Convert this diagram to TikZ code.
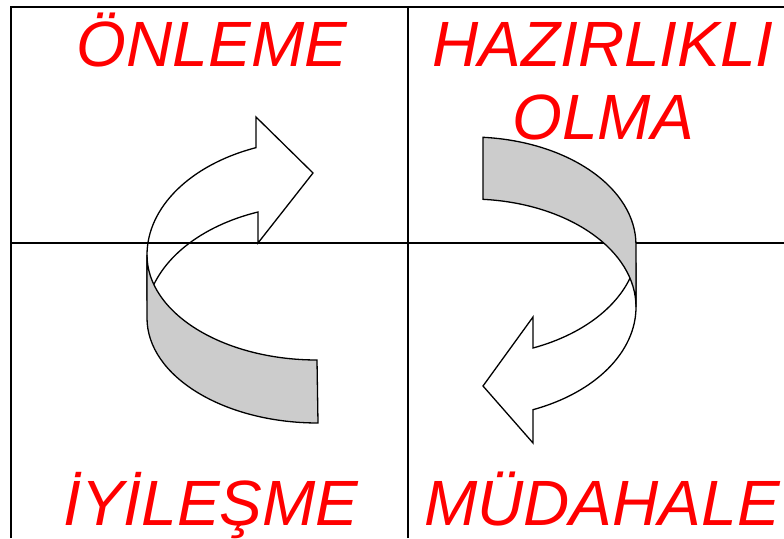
\documentclass[tikz,border=0pt]{standalone}
\usepackage{fontspec}
\setmainfont{Liberation Sans}
\begin{document}
\begin{tikzpicture}[x=1pt,y=1pt,
  gridline/.style={line width=1.6pt,black},
  arrowline/.style={line width=1.3pt,black,line join=miter},
  band/.style={line width=1.3pt,black,fill=bandgray},
  label/.style={text=red,font=\itshape\fontsize{64}{64}\selectfont,inner sep=0pt,anchor=base}]
\definecolor{bandgray}{RGB}{204,204,204}
\useasboundingbox (0,0) rectangle (784,538);
% grid
\draw[gridline] (11,0) -- (11,531) -- (790,531);
\draw[gridline] (408,0) -- (408,531);
\draw[gridline] (11,295) -- (790,295);
% left arrow (outline)
\draw[arrowline] (147,283) arc[start angle=180,end angle=111,x radius=170pt,y radius=115pt]
  -- (256,421) -- (313,365) -- (258,295) -- (258,326)
  arc[start angle=110,end angle=170,x radius=171pt,y radius=115pt]
  -- (147,237.9) -- cycle;
% left band
\draw[band] (147,283) arc[start angle=180,end angle=270,x radius=170pt,y radius=105pt]
  -- (318,115) arc[start angle=270,end angle=180,x radius=171pt,y radius=105pt] -- cycle;
% right arrow (outline)
\draw[arrowline] (636,231) arc[start angle=0,end angle=-67.7,x radius=166pt,y radius=111pt]
  -- (533,95) -- (483,152) -- (533,221) -- (533,190)
  arc[start angle=-68,end angle=-10,x radius=168pt,y radius=112.5pt]
  -- (636,274.8) -- cycle;
% right band
\draw[band] (483,400.7) arc[start angle=85.5,end angle=0,x radius=166pt,y radius=108pt]
  -- (636,231) arc[start angle=0,end angle=85.5,x radius=166pt,y radius=108pt] -- cycle;
% labels
\node[label] (onleme) at (212,471) {ÖNLEME};
\node[label] (hazir) at (603,471) {HAZIRLIKLI};
\node[label] (olma) at (603,398) {OLMA};
\node[label] (iyi) at (211,13) {İYİLEŞME};
\node[label] (mud) at (602,13) {MÜDAHALE};
\end{tikzpicture}
\end{document}
